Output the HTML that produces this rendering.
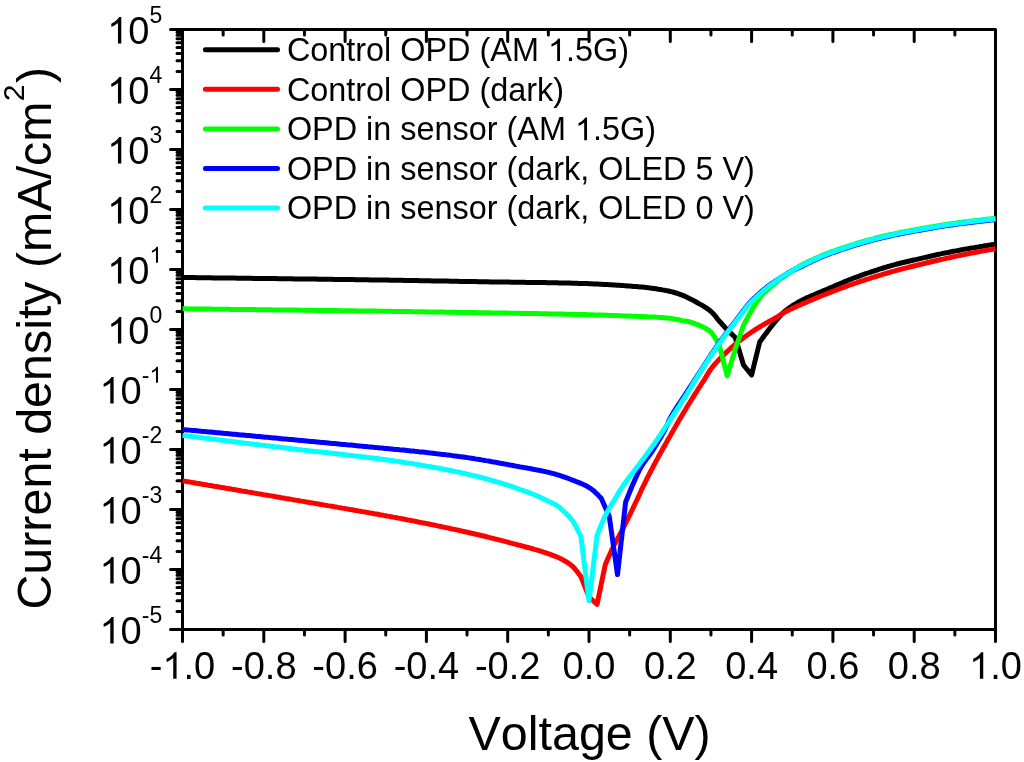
<!DOCTYPE html>
<html><head><meta charset="utf-8"><style>
html,body{margin:0;padding:0;background:#fff;width:1024px;height:762px;overflow:hidden;font-family:"Liberation Sans",sans-serif;}
svg{display:block;will-change:transform} text{font-kerning:none;}
</style></head><body>
<svg width="1024" height="762" viewBox="0 0 1024 762">
<rect x="0" y="0" width="1024" height="762" fill="#fff"/>
<path d="M182.50,629.5 v12 M223.15,629.5 v5.5 M223.15,29.5 v5.5 M263.80,629.5 v12 M263.80,29.5 v12 M304.45,629.5 v5.5 M304.45,29.5 v5.5 M345.10,629.5 v12 M345.10,29.5 v12 M385.75,629.5 v5.5 M385.75,29.5 v5.5 M426.40,629.5 v12 M426.40,29.5 v12 M467.05,629.5 v5.5 M467.05,29.5 v5.5 M507.70,629.5 v12 M507.70,29.5 v12 M548.35,629.5 v5.5 M548.35,29.5 v5.5 M589.00,629.5 v12 M589.00,29.5 v12 M629.65,629.5 v5.5 M629.65,29.5 v5.5 M670.30,629.5 v12 M670.30,29.5 v12 M710.95,629.5 v5.5 M710.95,29.5 v5.5 M751.60,629.5 v12 M751.60,29.5 v12 M792.25,629.5 v5.5 M792.25,29.5 v5.5 M832.90,629.5 v12 M832.90,29.5 v12 M873.55,629.5 v5.5 M873.55,29.5 v5.5 M914.20,629.5 v12 M914.20,29.5 v12 M954.85,629.5 v5.5 M954.85,29.5 v5.5 M995.50,629.5 v12 M182.5,629.50 h-12 M182.5,611.44 h-5.5 M182.5,600.87 h-5.5 M182.5,593.38 h-5.5 M182.5,587.56 h-5.5 M182.5,582.81 h-5.5 M182.5,578.79 h-5.5 M182.5,575.31 h-5.5 M182.5,572.25 h-5.5 M182.5,569.50 h-12 M182.5,551.44 h-5.5 M182.5,540.87 h-5.5 M182.5,533.38 h-5.5 M182.5,527.56 h-5.5 M182.5,522.81 h-5.5 M182.5,518.79 h-5.5 M182.5,515.31 h-5.5 M182.5,512.25 h-5.5 M182.5,509.50 h-12 M182.5,491.44 h-5.5 M182.5,480.87 h-5.5 M182.5,473.38 h-5.5 M182.5,467.56 h-5.5 M182.5,462.81 h-5.5 M182.5,458.79 h-5.5 M182.5,455.31 h-5.5 M182.5,452.25 h-5.5 M182.5,449.50 h-12 M182.5,431.44 h-5.5 M182.5,420.87 h-5.5 M182.5,413.38 h-5.5 M182.5,407.56 h-5.5 M182.5,402.81 h-5.5 M182.5,398.79 h-5.5 M182.5,395.31 h-5.5 M182.5,392.25 h-5.5 M182.5,389.50 h-12 M182.5,371.44 h-5.5 M182.5,360.87 h-5.5 M182.5,353.38 h-5.5 M182.5,347.56 h-5.5 M182.5,342.81 h-5.5 M182.5,338.79 h-5.5 M182.5,335.31 h-5.5 M182.5,332.25 h-5.5 M182.5,329.50 h-12 M182.5,311.44 h-5.5 M182.5,300.87 h-5.5 M182.5,293.38 h-5.5 M182.5,287.56 h-5.5 M182.5,282.81 h-5.5 M182.5,278.79 h-5.5 M182.5,275.31 h-5.5 M182.5,272.25 h-5.5 M182.5,269.50 h-12 M182.5,251.44 h-5.5 M182.5,240.87 h-5.5 M182.5,233.38 h-5.5 M182.5,227.56 h-5.5 M182.5,222.81 h-5.5 M182.5,218.79 h-5.5 M182.5,215.31 h-5.5 M182.5,212.25 h-5.5 M182.5,209.50 h-12 M182.5,191.44 h-5.5 M182.5,180.87 h-5.5 M182.5,173.38 h-5.5 M182.5,167.56 h-5.5 M182.5,162.81 h-5.5 M182.5,158.79 h-5.5 M182.5,155.31 h-5.5 M182.5,152.25 h-5.5 M182.5,149.50 h-12 M182.5,131.44 h-5.5 M182.5,120.87 h-5.5 M182.5,113.38 h-5.5 M182.5,107.56 h-5.5 M182.5,102.81 h-5.5 M182.5,98.79 h-5.5 M182.5,95.31 h-5.5 M182.5,92.25 h-5.5 M182.5,89.50 h-12 M182.5,71.44 h-5.5 M182.5,60.87 h-5.5 M182.5,53.38 h-5.5 M182.5,47.56 h-5.5 M182.5,42.81 h-5.5 M182.5,38.79 h-5.5 M182.5,35.31 h-5.5 M182.5,32.25 h-5.5 M182.5,29.50 h-12" stroke="#000" stroke-width="3" stroke-linecap="round" fill="none"/>
<rect x="182.5" y="29.5" width="813.0" height="600.0" fill="none" stroke="#000" stroke-width="3" stroke-linejoin="round"/>
<g fill="none" stroke-width="5" stroke-linejoin="round" stroke-linecap="butt">
<path d="M182.5,277.5 L184.5,277.5 L186.6,277.5 L188.6,277.6 L190.6,277.6 L192.7,277.6 L194.7,277.6 L196.7,277.7 L198.7,277.7 L200.8,277.7 L202.8,277.7 L204.8,277.8 L206.8,277.8 L208.9,277.8 L210.9,277.8 L212.9,277.9 L215.0,277.9 L217.0,277.9 L219.0,277.9 L221.0,278.0 L223.1,278.0 L225.1,278.0 L227.1,278.0 L229.1,278.1 L231.2,278.1 L233.2,278.1 L235.2,278.1 L237.3,278.2 L239.3,278.2 L241.3,278.2 L243.3,278.2 L245.4,278.3 L247.4,278.3 L249.4,278.3 L251.5,278.3 L253.5,278.4 L255.5,278.4 L257.6,278.4 L259.6,278.4 L261.6,278.5 L263.7,278.5 L265.7,278.5 L267.8,278.5 L269.8,278.6 L271.8,278.6 L273.9,278.6 L275.9,278.6 L278.0,278.7 L280.0,278.7 L282.0,278.7 L284.0,278.8 L286.0,278.8 L288.0,278.8 L289.9,278.8 L291.9,278.8 L293.9,278.9 L295.9,278.9 L297.9,278.9 L299.9,278.9 L301.9,279.0 L303.9,279.0 L305.9,279.0 L307.9,279.0 L309.9,279.1 L311.9,279.1 L313.9,279.1 L315.9,279.1 L317.9,279.2 L319.9,279.2 L321.9,279.2 L323.9,279.2 L325.9,279.3 L327.9,279.3 L329.9,279.3 L331.9,279.3 L333.9,279.4 L335.9,279.4 L337.9,279.4 L339.9,279.4 L341.9,279.5 L343.9,279.5 L346.0,279.5 L348.0,279.6 L350.0,279.6 L352.0,279.6 L354.0,279.6 L356.0,279.7 L358.0,279.7 L360.0,279.7 L362.0,279.7 L364.0,279.8 L366.0,279.8 L368.0,279.8 L370.0,279.9 L372.0,279.9 L374.0,279.9 L376.0,279.9 L378.0,280.0 L380.0,280.0 L382.0,280.0 L384.0,280.1 L386.0,280.1 L388.0,280.1 L390.0,280.2 L392.0,280.2 L394.0,280.2 L396.0,280.2 L398.0,280.3 L400.0,280.3 L402.0,280.3 L404.0,280.4 L406.0,280.4 L408.0,280.4 L410.0,280.5 L412.0,280.5 L414.0,280.5 L416.0,280.6 L418.0,280.6 L420.0,280.7 L422.0,280.7 L424.0,280.7 L426.0,280.8 L428.0,280.8 L430.0,280.8 L432.0,280.9 L434.0,280.9 L436.0,280.9 L438.0,281.0 L440.0,281.0 L442.0,281.0 L444.0,281.1 L446.0,281.1 L448.0,281.1 L450.0,281.2 L452.0,281.2 L454.0,281.2 L456.0,281.3 L458.0,281.3 L460.0,281.4 L462.0,281.4 L464.0,281.4 L466.0,281.5 L468.0,281.5 L470.0,281.5 L472.0,281.6 L474.0,281.6 L476.0,281.6 L478.0,281.7 L480.0,281.7 L482.0,281.7 L484.0,281.8 L486.1,281.8 L488.1,281.8 L490.2,281.9 L492.3,281.9 L494.4,281.9 L496.5,282.0 L498.6,282.0 L500.7,282.0 L502.9,282.0 L505.0,282.1 L507.2,282.1 L509.3,282.1 L511.5,282.2 L513.6,282.2 L515.8,282.2 L517.9,282.2 L520.1,282.3 L522.2,282.3 L524.4,282.3 L526.5,282.4 L528.6,282.4 L530.8,282.4 L532.9,282.4 L535.0,282.5 L537.1,282.5 L539.2,282.5 L541.3,282.6 L543.3,282.6 L545.4,282.6 L547.4,282.7 L549.4,282.7 L551.4,282.7 L553.4,282.8 L555.4,282.8 L557.3,282.8 L559.2,282.9 L561.1,282.9 L563.0,283.0 L564.8,283.0 L566.6,283.0 L568.4,283.1 L570.1,283.1 L571.9,283.2 L573.6,283.2 L575.2,283.3 L576.9,283.3 L578.4,283.4 L580.0,283.4 L582.5,283.5 L584.9,283.6 L587.2,283.6 L589.4,283.7 L591.6,283.8 L593.7,283.9 L595.8,284.0 L597.8,284.1 L599.8,284.2 L601.7,284.3 L603.7,284.4 L605.6,284.5 L607.5,284.6 L609.4,284.7 L611.2,284.8 L613.2,284.9 L615.1,285.0 L617.0,285.2 L619.0,285.3 L621.1,285.4 L623.2,285.6 L625.4,285.7 L627.5,285.9 L629.6,286.0 L631.8,286.2 L633.9,286.4 L636.0,286.5 L638.1,286.7 L640.2,286.9 L642.2,287.1 L644.3,287.3 L646.3,287.5 L648.3,287.7 L650.2,288.0 L652.1,288.2 L654.0,288.5 L656.2,288.8 L658.3,289.2 L660.4,289.5 L662.5,289.9 L664.5,290.2 L666.5,290.6 L668.5,291.0 L670.4,291.5 L672.4,291.9 L674.3,292.5 L676.1,293.0 L678.0,293.6 L680.0,294.3 L682.1,295.1 L684.0,295.9 L686.0,296.8 L687.9,297.7 L689.8,298.7 L691.7,299.6 L693.5,300.6 L695.3,301.5 L697.0,302.5 L698.9,303.6 L700.8,304.6 L702.7,305.7 L704.5,306.8 L706.2,307.9 L707.9,309.1 L709.5,310.3 L711.0,311.5 L712.6,313.0 L714.0,314.5 L715.3,316.1 L716.5,317.7 L717.8,319.3 L719.1,320.8 L720.4,322.3 L721.8,323.8 L723.1,325.3 L724.5,326.8 L725.8,328.3 L727.2,329.7 L728.8,331.3 L730.4,332.9 L732.0,334.4 L733.7,336.0 L735.3,337.5 L743.5,365.0 L751.6,375.0 L759.7,342.0 L761.0,340.2 L762.4,338.4 L763.7,336.5 L765.0,334.7 L766.4,332.9 L767.8,331.0 L769.0,329.4 L770.2,327.8 L771.5,326.2 L772.8,324.6 L774.1,323.0 L775.4,321.4 L776.7,319.9 L777.9,318.5 L779.4,316.8 L780.9,315.1 L782.3,313.6 L783.9,312.0 L785.7,310.5 L787.2,309.4 L788.8,308.2 L790.5,307.0 L792.2,305.9 L794.1,304.7 L796.0,303.6 L797.8,302.5 L799.7,301.5 L801.5,300.5 L803.4,299.5 L805.4,298.5 L807.3,297.6 L809.3,296.8 L811.3,295.9 L813.3,295.1 L815.2,294.3 L817.2,293.4 L819.2,292.5 L821.1,291.7 L823.1,290.9 L825.1,290.0 L827.0,289.2 L829.0,288.4 L831.0,287.5 L833.0,286.7 L834.9,285.9 L836.7,285.1 L838.6,284.3 L840.4,283.5 L842.3,282.7 L844.2,281.9 L846.1,281.1 L848.0,280.3 L850.0,279.5 L851.9,278.8 L853.8,278.0 L855.8,277.3 L857.8,276.6 L859.7,275.9 L861.7,275.1 L863.8,274.4 L865.8,273.7 L867.9,273.0 L870.0,272.3 L871.8,271.7 L873.7,271.1 L875.6,270.5 L877.5,269.9 L879.4,269.2 L881.3,268.6 L883.3,268.0 L885.2,267.4 L887.2,266.8 L889.2,266.3 L891.1,265.7 L893.1,265.1 L895.0,264.6 L897.1,264.0 L899.2,263.5 L901.2,263.0 L903.3,262.5 L905.4,262.0 L907.5,261.5 L909.6,261.0 L911.7,260.5 L913.7,260.0 L915.8,259.6 L917.9,259.1 L920.0,258.6 L922.1,258.1 L924.2,257.6 L926.2,257.2 L928.3,256.7 L930.4,256.2 L932.5,255.7 L934.6,255.3 L936.7,254.8 L938.7,254.3 L940.8,253.9 L942.9,253.4 L945.0,253.0 L947.1,252.6 L949.2,252.2 L951.2,251.8 L953.3,251.3 L955.4,251.0 L957.5,250.6 L959.6,250.2 L961.6,249.8 L963.7,249.4 L965.8,249.0 L967.9,248.7 L970.0,248.3 L972.1,247.9 L974.2,247.6 L976.4,247.2 L978.5,246.9 L980.6,246.5 L982.7,246.2 L984.9,245.8 L987.0,245.5 L989.1,245.1 L991.2,244.8 L993.4,244.4 L995.5,244.1" stroke="#000"/>
<path d="M182.5,480.8 L184.5,481.1 L186.5,481.5 L188.4,481.8 L190.4,482.1 L192.4,482.5 L194.4,482.8 L196.3,483.2 L198.3,483.5 L200.3,483.8 L202.2,484.2 L204.2,484.5 L206.2,484.8 L208.1,485.2 L210.1,485.5 L212.1,485.8 L214.1,486.2 L216.0,486.5 L218.0,486.8 L220.0,487.2 L221.9,487.5 L223.9,487.8 L225.9,488.2 L227.8,488.5 L229.8,488.8 L231.8,489.2 L233.7,489.5 L235.7,489.8 L237.7,490.2 L239.6,490.5 L241.6,490.9 L243.6,491.2 L245.6,491.5 L247.5,491.9 L249.5,492.2 L251.5,492.5 L253.5,492.9 L255.5,493.2 L257.4,493.6 L259.4,493.9 L261.4,494.2 L263.4,494.6 L265.4,494.9 L267.4,495.3 L269.4,495.6 L271.4,495.9 L273.4,496.3 L275.4,496.6 L277.4,497.0 L279.4,497.3 L281.4,497.7 L283.4,498.0 L285.4,498.4 L287.4,498.7 L289.3,499.0 L291.3,499.4 L293.3,499.7 L295.2,500.1 L297.2,500.4 L299.2,500.7 L301.2,501.1 L303.2,501.4 L305.2,501.8 L307.3,502.1 L309.3,502.5 L311.3,502.8 L313.4,503.1 L315.4,503.5 L317.4,503.8 L319.5,504.2 L321.5,504.5 L323.6,504.9 L325.7,505.2 L327.7,505.6 L329.8,505.9 L331.8,506.3 L333.9,506.6 L335.9,507.0 L338.0,507.4 L340.0,507.7 L342.1,508.1 L344.1,508.4 L346.2,508.8 L348.2,509.1 L350.3,509.5 L352.3,509.8 L354.3,510.2 L356.3,510.5 L358.4,510.9 L360.4,511.2 L362.4,511.6 L364.4,511.9 L366.3,512.3 L368.3,512.6 L370.3,513.0 L372.2,513.3 L374.2,513.7 L376.1,514.0 L378.0,514.3 L379.9,514.7 L381.8,515.0 L383.7,515.4 L385.6,515.7 L387.4,516.1 L389.3,516.4 L391.1,516.7 L392.9,517.1 L394.7,517.4 L396.5,517.7 L398.3,518.1 L400.0,518.4 L402.2,518.8 L404.4,519.2 L406.6,519.7 L408.8,520.1 L410.9,520.5 L413.1,520.9 L415.2,521.3 L417.3,521.8 L419.4,522.2 L421.5,522.6 L423.6,523.0 L425.6,523.4 L427.7,523.8 L429.7,524.2 L431.7,524.6 L433.7,525.0 L435.7,525.4 L437.7,525.9 L439.6,526.3 L441.6,526.7 L443.5,527.1 L445.4,527.5 L447.3,527.9 L449.2,528.3 L451.1,528.7 L453.0,529.1 L454.9,529.5 L456.7,529.9 L458.5,530.3 L460.4,530.7 L462.2,531.1 L464.0,531.5 L465.8,531.9 L467.5,532.3 L469.3,532.7 L471.5,533.2 L473.8,533.7 L476.0,534.2 L478.2,534.8 L480.4,535.3 L482.5,535.8 L484.6,536.3 L486.8,536.8 L488.9,537.4 L490.9,537.9 L493.0,538.4 L495.0,538.9 L497.0,539.4 L499.0,539.9 L500.9,540.4 L502.9,540.9 L504.8,541.4 L506.7,541.9 L508.5,542.4 L510.3,542.9 L512.1,543.3 L513.9,543.8 L516.2,544.4 L518.4,545.0 L520.5,545.5 L522.7,546.1 L524.7,546.7 L526.8,547.2 L528.8,547.7 L530.7,548.3 L532.7,548.8 L534.5,549.4 L536.4,549.9 L538.2,550.4 L540.0,551.0 L542.3,551.7 L544.5,552.5 L546.7,553.2 L548.9,553.9 L550.9,554.6 L552.9,555.4 L554.8,556.1 L556.5,556.8 L558.8,557.8 L560.8,558.7 L562.7,559.7 L564.6,560.8 L566.7,562.0 L568.7,563.4 L570.7,564.8 L572.7,566.5 L574.1,568.0 L575.5,569.6 L576.9,571.3 L578.2,573.0 L579.5,574.8 L580.9,576.5 L589.0,597.0 L597.1,604.3 L605.2,564.9 L606.0,563.1 L606.8,561.2 L607.6,559.3 L608.4,557.4 L609.3,555.6 L610.1,553.7 L610.9,551.9 L611.7,550.0 L612.6,548.3 L613.4,546.5 L614.4,544.5 L615.4,542.6 L616.4,540.7 L617.5,538.8 L618.5,537.0 L619.5,535.1 L620.5,533.3 L621.5,531.5 L622.5,529.6 L623.4,527.8 L624.3,526.0 L625.2,524.2 L626.1,522.3 L627.0,520.5 L628.0,518.5 L628.9,516.7 L629.8,514.8 L630.7,512.9 L631.6,511.0 L632.6,509.0 L633.5,507.1 L634.5,505.0 L635.4,503.0 L636.4,501.0 L637.3,499.2 L638.1,497.3 L639.0,495.5 L639.8,493.7 L640.7,491.8 L641.5,489.9 L642.4,488.0 L643.4,486.0 L644.3,484.1 L645.3,482.1 L646.3,480.0 L647.1,478.3 L648.0,476.6 L648.9,474.9 L649.8,473.1 L650.7,471.3 L651.7,469.5 L652.7,467.7 L653.6,465.8 L654.6,464.0 L655.6,462.1 L656.6,460.2 L657.6,458.4 L658.6,456.5 L659.6,454.7 L660.6,452.9 L661.6,451.1 L662.6,449.3 L663.6,447.5 L664.6,445.7 L665.6,443.9 L666.6,442.1 L667.6,440.3 L668.6,438.5 L669.7,436.7 L670.7,434.9 L671.7,433.1 L672.7,431.4 L673.7,429.6 L674.7,427.9 L675.7,426.1 L676.7,424.4 L677.7,422.7 L678.7,421.0 L679.8,419.1 L680.9,417.2 L682.1,415.3 L683.2,413.4 L684.3,411.5 L685.4,409.7 L686.5,407.8 L687.6,406.0 L688.7,404.2 L689.8,402.5 L690.9,400.7 L692.0,399.0 L693.0,397.3 L694.2,395.4 L695.3,393.6 L696.5,391.8 L697.6,390.0 L698.7,388.3 L699.9,386.6 L700.9,384.9 L702.0,383.2 L703.1,381.6 L704.1,380.0 L705.3,378.1 L706.3,376.3 L707.3,374.6 L708.4,372.9 L709.5,371.2 L710.7,369.4 L712.0,367.6 L713.2,366.1 L714.6,364.5 L716.0,362.9 L717.6,361.2 L719.1,359.5 L720.7,357.9 L722.4,356.3 L724.0,354.7 L725.5,353.1 L727.1,351.7 L728.5,350.3 L730.2,348.7 L731.9,347.2 L733.5,345.8 L735.1,344.5 L736.7,343.1 L738.3,341.8 L740.0,340.5 L741.7,339.2 L743.5,337.8 L745.3,336.5 L747.1,335.2 L748.9,334.0 L750.7,332.7 L752.5,331.5 L754.3,330.3 L756.0,329.2 L757.8,328.1 L759.6,327.0 L761.4,325.9 L763.2,324.9 L765.0,323.8 L766.8,322.8 L768.6,321.7 L770.4,320.7 L772.3,319.7 L774.0,318.7 L775.8,317.7 L777.4,316.8 L779.5,315.5 L781.5,314.2 L783.5,313.0 L785.7,311.7 L787.4,310.8 L789.3,309.9 L791.2,308.9 L793.3,308.0 L795.3,307.1 L797.4,306.1 L799.5,305.2 L801.5,304.3 L803.5,303.4 L805.4,302.6 L807.4,301.7 L809.3,300.9 L811.3,300.1 L813.3,299.2 L815.2,298.4 L817.2,297.6 L819.2,296.8 L821.1,296.0 L823.1,295.2 L825.1,294.4 L827.0,293.6 L829.0,292.9 L831.0,292.1 L833.0,291.3 L834.9,290.6 L836.7,289.9 L838.6,289.2 L840.4,288.5 L842.3,287.8 L844.2,287.1 L846.1,286.4 L848.0,285.7 L850.0,285.0 L851.9,284.3 L853.9,283.7 L855.8,283.0 L857.8,282.3 L859.7,281.6 L861.7,281.0 L863.8,280.3 L865.8,279.6 L867.9,279.0 L870.0,278.3 L871.8,277.7 L873.7,277.1 L875.6,276.5 L877.5,276.0 L879.4,275.4 L881.3,274.8 L883.3,274.2 L885.2,273.6 L887.2,273.0 L889.2,272.5 L891.1,271.9 L893.1,271.3 L895.0,270.8 L897.1,270.2 L899.2,269.7 L901.2,269.1 L903.3,268.6 L905.4,268.1 L907.5,267.6 L909.6,267.0 L911.7,266.5 L913.7,266.0 L915.8,265.5 L917.9,265.0 L920.0,264.5 L922.1,264.0 L924.2,263.5 L926.2,263.0 L928.3,262.5 L930.4,262.0 L932.5,261.5 L934.6,261.0 L936.7,260.5 L938.7,260.0 L940.8,259.5 L942.9,259.1 L945.0,258.6 L947.1,258.1 L949.2,257.7 L951.2,257.2 L953.3,256.8 L955.4,256.4 L957.5,255.9 L959.6,255.5 L961.6,255.1 L963.7,254.6 L965.8,254.2 L967.9,253.8 L970.0,253.4 L972.1,253.0 L974.2,252.6 L976.4,252.2 L978.5,251.8 L980.6,251.4 L982.7,251.0 L984.9,250.6 L987.0,250.2 L989.1,249.9 L991.2,249.5 L993.4,249.1 L995.5,248.7" stroke="#f00"/>
<path d="M182.5,308.8 L184.5,308.8 L186.5,308.8 L188.5,308.9 L190.6,308.9 L192.6,308.9 L194.6,308.9 L196.6,309.0 L198.6,309.0 L200.6,309.0 L202.6,309.0 L204.7,309.1 L206.7,309.1 L208.7,309.1 L210.7,309.1 L212.7,309.2 L214.7,309.2 L216.7,309.2 L218.8,309.2 L220.8,309.3 L222.8,309.3 L224.8,309.3 L226.8,309.3 L228.8,309.3 L230.8,309.4 L232.9,309.4 L234.9,309.4 L236.9,309.4 L238.9,309.5 L240.9,309.5 L242.9,309.5 L244.9,309.5 L246.9,309.6 L249.0,309.6 L251.0,309.6 L253.0,309.6 L255.0,309.6 L257.0,309.7 L259.0,309.7 L261.0,309.7 L263.1,309.7 L265.1,309.8 L267.1,309.8 L269.1,309.8 L271.1,309.8 L273.1,309.9 L275.1,309.9 L277.1,309.9 L279.2,309.9 L281.2,309.9 L283.2,310.0 L285.2,310.0 L287.2,310.0 L289.2,310.0 L291.2,310.1 L293.3,310.1 L295.3,310.1 L297.3,310.1 L299.3,310.2 L301.3,310.2 L303.3,310.2 L305.3,310.2 L307.4,310.3 L309.4,310.3 L311.4,310.3 L313.4,310.3 L315.4,310.4 L317.4,310.4 L319.4,310.4 L321.5,310.4 L323.5,310.5 L325.5,310.5 L327.5,310.5 L329.5,310.5 L331.5,310.6 L333.6,310.6 L335.6,310.6 L337.6,310.6 L339.6,310.7 L341.6,310.7 L343.6,310.7 L345.7,310.7 L347.7,310.8 L349.7,310.8 L351.7,310.8 L353.7,310.8 L355.8,310.9 L357.8,310.9 L359.8,310.9 L361.8,310.9 L363.8,311.0 L365.9,311.0 L367.9,311.0 L369.9,311.1 L371.9,311.1 L373.9,311.1 L376.0,311.1 L378.0,311.2 L380.0,311.2 L382.0,311.2 L384.0,311.3 L386.0,311.3 L388.1,311.3 L390.2,311.3 L392.2,311.4 L394.3,311.4 L396.4,311.4 L398.5,311.5 L400.6,311.5 L402.8,311.5 L404.9,311.6 L407.1,311.6 L409.2,311.6 L411.4,311.7 L413.6,311.7 L415.8,311.7 L418.0,311.8 L420.2,311.8 L422.4,311.8 L424.6,311.8 L426.8,311.9 L429.1,311.9 L431.3,311.9 L433.5,312.0 L435.8,312.0 L438.0,312.0 L440.3,312.1 L442.5,312.1 L444.8,312.2 L447.0,312.2 L449.3,312.2 L451.6,312.3 L453.8,312.3 L456.1,312.3 L458.3,312.4 L460.6,312.4 L462.8,312.4 L465.1,312.5 L467.3,312.5 L469.6,312.5 L471.8,312.6 L474.1,312.6 L476.3,312.6 L478.5,312.7 L480.8,312.7 L483.0,312.7 L485.2,312.8 L487.4,312.8 L489.6,312.8 L491.8,312.9 L494.0,312.9 L496.2,313.0 L498.3,313.0 L500.5,313.0 L502.6,313.1 L504.8,313.1 L506.9,313.1 L509.0,313.2 L511.1,313.2 L513.2,313.2 L515.3,313.3 L517.3,313.3 L519.4,313.3 L521.4,313.4 L523.4,313.4 L525.4,313.4 L527.4,313.5 L529.4,313.5 L531.3,313.5 L533.3,313.6 L535.2,313.6 L537.1,313.6 L539.0,313.7 L540.9,313.7 L542.7,313.7 L544.5,313.8 L546.3,313.8 L548.1,313.8 L549.9,313.9 L551.6,313.9 L553.4,313.9 L555.1,314.0 L556.7,314.0 L558.4,314.0 L560.0,314.1 L561.6,314.1 L563.2,314.1 L564.7,314.2 L566.3,314.2 L567.8,314.2 L569.2,314.3 L570.7,314.3 L572.1,314.3 L573.5,314.4 L574.9,314.4 L576.2,314.4 L577.5,314.4 L578.8,314.5 L580.0,314.5 L582.8,314.6 L585.4,314.6 L587.9,314.7 L590.2,314.8 L592.4,314.8 L594.6,314.9 L596.6,314.9 L598.6,315.0 L600.5,315.1 L602.3,315.1 L604.1,315.2 L605.9,315.2 L607.7,315.3 L609.5,315.4 L611.3,315.4 L613.2,315.5 L615.0,315.6 L617.0,315.6 L619.0,315.7 L621.1,315.8 L623.2,315.9 L625.4,315.9 L627.6,316.0 L629.8,316.1 L632.1,316.2 L634.3,316.2 L636.6,316.3 L638.8,316.4 L641.0,316.5 L643.2,316.6 L645.3,316.7 L647.3,316.8 L649.3,316.9 L651.3,316.9 L653.1,317.0 L654.8,317.1 L656.5,317.2 L658.0,317.3 L660.4,317.4 L662.5,317.6 L664.5,317.7 L666.3,317.9 L668.1,318.1 L670.0,318.3 L672.1,318.6 L674.3,319.0 L676.3,319.4 L678.4,319.8 L680.5,320.2 L682.6,320.6 L684.7,320.9 L686.8,321.3 L688.9,321.8 L691.0,322.3 L693.2,323.0 L695.4,323.8 L697.6,324.6 L699.6,325.5 L701.5,326.3 L703.4,327.3 L705.2,328.2 L706.8,329.2 L708.9,330.5 L711.0,332.2 L712.1,333.5 L713.2,335.1 L714.4,336.8 L715.6,338.8 L716.7,340.7 L717.9,342.7 L719.1,344.5 L727.2,375.9 L735.3,349.0 L743.5,325.2 L744.5,323.4 L745.5,321.5 L746.5,319.6 L747.5,317.8 L748.5,315.9 L749.5,314.1 L750.6,312.3 L751.6,310.5 L752.7,308.6 L753.9,306.6 L755.0,304.7 L756.2,302.8 L757.4,301.0 L758.7,299.2 L760.0,297.5 L761.3,295.9 L762.7,294.4 L764.1,293.0 L765.6,291.6 L767.1,290.2 L768.5,288.8 L770.0,287.5 L771.6,286.0 L773.3,284.6 L775.0,283.2 L776.6,281.9 L778.3,280.6 L780.0,279.3 L781.6,278.1 L783.3,277.0 L785.0,275.9 L786.7,274.8 L788.3,273.7 L790.0,272.6 L791.6,271.5 L793.2,270.3 L794.8,269.2 L796.5,268.1 L798.2,267.0 L800.0,265.9 L801.7,265.0 L803.5,264.0 L805.4,263.1 L807.3,262.1 L809.2,261.2 L811.2,260.3 L813.1,259.5 L815.0,258.6 L816.8,257.8 L818.7,257.0 L820.5,256.2 L822.3,255.4 L824.2,254.7 L826.1,253.9 L828.0,253.2 L830.0,252.4 L831.9,251.7 L833.8,251.0 L835.8,250.3 L837.8,249.6 L839.8,248.9 L841.8,248.2 L843.9,247.5 L845.9,246.8 L848.0,246.2 L850.0,245.5 L852.0,244.9 L854.0,244.3 L855.9,243.6 L857.9,243.0 L859.8,242.5 L861.8,241.9 L863.8,241.3 L865.8,240.7 L867.9,240.2 L870.0,239.6 L872.0,239.1 L874.0,238.6 L876.0,238.0 L878.1,237.5 L880.2,237.0 L882.3,236.5 L884.4,236.0 L886.5,235.5 L888.7,235.0 L890.8,234.5 L892.9,234.1 L895.0,233.6 L897.1,233.2 L899.2,232.7 L901.2,232.3 L903.3,231.9 L905.4,231.5 L907.5,231.1 L909.6,230.8 L911.7,230.4 L913.7,230.0 L915.8,229.6 L917.9,229.3 L920.0,228.9 L922.1,228.5 L924.2,228.2 L926.2,227.8 L928.3,227.4 L930.4,227.0 L932.5,226.7 L934.6,226.3 L936.7,226.0 L938.7,225.6 L940.8,225.3 L942.9,224.9 L945.0,224.6 L947.1,224.3 L949.2,224.0 L951.2,223.7 L953.3,223.4 L955.4,223.1 L957.5,222.8 L959.6,222.5 L961.6,222.3 L963.7,222.0 L965.8,221.7 L967.9,221.5 L970.0,221.2 L972.1,220.9 L974.2,220.7 L976.4,220.4 L978.5,220.2 L980.6,220.0 L982.7,219.7 L984.9,219.5 L987.0,219.2 L989.1,219.0 L991.2,218.8 L993.4,218.5 L995.5,218.3" stroke="#0f0"/>
<path d="M182.5,429.5 L184.5,429.7 L186.5,429.9 L188.6,430.1 L190.6,430.2 L192.6,430.4 L194.6,430.6 L196.6,430.8 L198.7,431.0 L200.7,431.2 L202.7,431.4 L204.7,431.6 L206.7,431.7 L208.7,431.9 L210.8,432.1 L212.8,432.3 L214.8,432.5 L216.8,432.7 L218.8,432.8 L220.8,433.0 L222.8,433.2 L224.8,433.4 L226.9,433.6 L228.9,433.8 L230.9,434.0 L232.9,434.2 L234.9,434.3 L236.9,434.5 L239.0,434.7 L241.0,434.9 L243.0,435.1 L245.0,435.3 L247.1,435.5 L249.1,435.6 L251.1,435.8 L253.2,436.0 L255.2,436.2 L257.2,436.4 L259.3,436.6 L261.3,436.8 L263.3,437.0 L265.4,437.2 L267.4,437.3 L269.5,437.5 L271.5,437.7 L273.6,437.9 L275.6,438.1 L277.7,438.3 L279.7,438.5 L281.7,438.7 L283.7,438.9 L285.7,439.0 L287.8,439.2 L289.8,439.4 L291.9,439.6 L294.0,439.8 L296.1,440.0 L298.2,440.2 L300.3,440.4 L302.4,440.6 L304.5,440.8 L306.7,441.0 L308.8,441.2 L310.9,441.4 L313.1,441.6 L315.2,441.8 L317.4,442.0 L319.5,442.2 L321.7,442.4 L323.8,442.6 L325.9,442.8 L328.1,443.0 L330.2,443.2 L332.3,443.4 L334.4,443.6 L336.5,443.8 L338.6,444.0 L340.7,444.2 L342.7,444.4 L344.8,444.6 L346.8,444.8 L348.9,444.9 L350.9,445.1 L352.9,445.3 L354.8,445.5 L356.8,445.7 L358.7,445.9 L360.6,446.1 L362.5,446.2 L364.4,446.4 L366.2,446.6 L368.1,446.8 L369.9,446.9 L371.6,447.1 L373.4,447.3 L375.1,447.4 L376.7,447.6 L378.4,447.7 L380.0,447.9 L382.4,448.1 L384.7,448.4 L387.0,448.6 L389.2,448.8 L391.4,449.0 L393.5,449.2 L395.5,449.4 L397.6,449.6 L399.6,449.8 L401.5,449.9 L403.4,450.1 L405.4,450.3 L407.3,450.5 L409.2,450.7 L411.0,450.9 L412.9,451.1 L414.8,451.3 L416.7,451.4 L418.7,451.7 L420.6,451.9 L422.6,452.1 L424.6,452.3 L426.6,452.5 L428.7,452.8 L430.7,453.0 L432.7,453.2 L434.8,453.4 L436.8,453.7 L438.8,453.9 L440.9,454.2 L442.9,454.4 L444.9,454.6 L447.0,454.9 L449.0,455.1 L451.0,455.4 L453.1,455.7 L455.1,455.9 L457.1,456.2 L459.2,456.5 L461.2,456.7 L463.2,457.0 L465.2,457.3 L467.3,457.6 L469.3,457.9 L471.3,458.2 L473.4,458.5 L475.4,458.9 L477.5,459.2 L479.6,459.5 L481.6,459.9 L483.7,460.2 L485.7,460.6 L487.8,460.9 L489.9,461.3 L491.9,461.7 L494.0,462.0 L496.0,462.4 L498.1,462.8 L500.1,463.2 L502.1,463.5 L504.1,463.9 L506.1,464.3 L508.1,464.6 L510.0,465.0 L512.0,465.3 L513.9,465.7 L516.0,466.1 L518.1,466.5 L520.3,466.9 L522.4,467.2 L524.6,467.6 L526.7,468.0 L528.9,468.4 L531.0,468.8 L533.1,469.2 L535.1,469.6 L537.2,470.0 L539.1,470.3 L541.1,470.7 L542.9,471.1 L544.7,471.5 L546.4,471.9 L548.1,472.2 L549.6,472.6 L552.2,473.3 L554.6,473.9 L556.7,474.6 L558.8,475.2 L560.9,475.9 L563.0,476.6 L565.2,477.4 L567.5,478.2 L569.7,479.0 L571.9,479.9 L574.0,480.7 L576.0,481.5 L578.4,482.4 L580.7,483.3 L582.8,484.2 L585.0,485.2 L587.1,486.3 L589.2,487.6 L591.2,488.9 L593.2,490.4 L594.9,491.9 L596.5,493.5 L598.1,495.1 L599.7,496.8 L601.3,498.5 L609.2,516.0 L617.5,574.6 L625.6,502.3 L626.4,500.3 L627.2,498.3 L628.0,496.3 L628.8,494.3 L629.6,492.3 L630.4,490.3 L631.2,488.3 L632.0,486.3 L632.9,484.4 L633.7,482.5 L634.6,480.6 L635.4,478.6 L636.3,476.7 L637.1,474.9 L638.0,473.0 L638.9,471.2 L639.8,469.3 L640.8,467.6 L641.8,465.8 L643.0,463.9 L644.3,462.0 L645.6,460.2 L646.9,458.4 L648.3,456.6 L649.6,454.9 L650.8,453.2 L652.0,451.5 L653.2,449.7 L654.3,447.9 L655.4,446.2 L656.4,444.5 L657.5,442.7 L658.5,441.0 L659.5,439.3 L660.6,437.6 L661.6,435.8 L662.6,434.1 L663.6,432.3 L664.6,430.5 L665.4,428.8 L666.2,427.0 L667.0,425.3 L667.7,423.5 L668.5,421.6 L669.4,419.6 L670.5,417.6 L671.4,416.0 L672.4,414.4 L673.4,412.6 L674.5,410.8 L675.7,409.0 L676.9,407.1 L678.1,405.2 L679.4,403.3 L680.7,401.4 L681.9,399.5 L683.2,397.7 L684.4,395.8 L685.5,394.1 L686.6,392.4 L687.8,390.5 L689.0,388.7 L690.1,386.9 L691.3,385.2 L692.4,383.5 L693.5,381.8 L694.6,380.0 L695.8,378.2 L697.0,376.4 L698.3,374.4 L699.3,372.9 L700.3,371.3 L701.4,369.6 L702.5,368.0 L703.6,366.3 L704.7,364.5 L705.8,362.8 L707.0,361.0 L708.1,359.2 L709.3,357.4 L710.5,355.6 L711.6,353.8 L712.8,352.1 L714.0,350.3 L715.2,348.6 L716.3,346.9 L717.5,345.2 L718.7,343.5 L719.9,341.8 L721.2,340.1 L722.4,338.4 L723.6,336.7 L724.9,335.0 L726.2,333.3 L727.4,331.6 L728.7,329.9 L729.9,328.3 L731.1,326.7 L732.4,325.1 L733.6,323.5 L734.7,322.0 L735.9,320.5 L737.0,319.0 L738.4,317.2 L739.8,315.3 L741.1,313.6 L742.4,311.8 L743.7,310.1 L745.0,308.5 L746.2,306.9 L747.5,305.3 L748.7,303.8 L750.0,302.4 L751.7,300.6 L753.4,298.9 L755.0,297.4 L756.7,295.9 L758.3,294.4 L760.0,292.9 L761.6,291.5 L763.3,290.0 L765.0,288.7 L766.6,287.3 L768.3,286.0 L770.0,284.7 L772.0,283.3 L774.0,282.0 L776.0,280.7 L778.0,279.4 L780.0,278.1 L782.0,276.8 L784.0,275.5 L786.0,274.3 L788.0,273.0 L790.0,271.9 L791.9,270.9 L793.9,270.0 L795.8,269.1 L797.9,268.2 L800.0,267.2 L801.7,266.4 L803.5,265.5 L805.4,264.5 L807.3,263.6 L809.2,262.6 L811.2,261.7 L813.1,260.8 L815.0,259.9 L816.8,259.1 L818.7,258.3 L820.5,257.5 L822.3,256.7 L824.2,256.0 L826.1,255.2 L828.0,254.5 L830.0,253.7 L831.9,253.0 L833.8,252.3 L835.8,251.6 L837.8,250.9 L839.8,250.2 L841.8,249.5 L843.9,248.8 L845.9,248.1 L848.0,247.5 L850.0,246.8 L852.0,246.2 L854.0,245.6 L855.9,244.9 L857.9,244.3 L859.8,243.8 L861.8,243.2 L863.8,242.6 L865.8,242.0 L867.9,241.5 L870.0,240.9 L872.0,240.4 L874.0,239.9 L876.0,239.3 L878.1,238.8 L880.2,238.3 L882.3,237.8 L884.4,237.3 L886.5,236.8 L888.7,236.3 L890.8,235.8 L892.9,235.4 L895.0,234.9 L897.1,234.5 L899.2,234.0 L901.2,233.6 L903.3,233.2 L905.4,232.8 L907.5,232.4 L909.6,232.1 L911.7,231.7 L913.7,231.3 L915.8,230.9 L917.9,230.6 L920.0,230.2 L922.1,229.8 L924.2,229.5 L926.2,229.1 L928.3,228.7 L930.4,228.3 L932.5,228.0 L934.6,227.6 L936.7,227.3 L938.7,226.9 L940.8,226.6 L942.9,226.2 L945.0,225.9 L947.1,225.6 L949.2,225.3 L951.2,225.0 L953.3,224.7 L955.4,224.4 L957.5,224.1 L959.6,223.8 L961.6,223.6 L963.7,223.3 L965.8,223.0 L967.9,222.8 L970.0,222.5 L972.1,222.2 L974.2,222.0 L976.4,221.7 L978.5,221.5 L980.6,221.3 L982.7,221.0 L984.9,220.8 L987.0,220.5 L989.1,220.3 L991.2,220.1 L993.4,219.8 L995.5,219.6" stroke="#00f"/>
<path d="M182.5,435.4 L184.5,435.6 L186.5,435.9 L188.6,436.1 L190.6,436.4 L192.6,436.6 L194.6,436.9 L196.6,437.1 L198.7,437.4 L200.7,437.6 L202.7,437.9 L204.7,438.1 L206.7,438.4 L208.7,438.6 L210.7,438.9 L212.8,439.1 L214.8,439.4 L216.8,439.6 L218.8,439.9 L220.8,440.1 L222.8,440.4 L224.8,440.6 L226.9,440.9 L228.9,441.1 L230.9,441.4 L232.9,441.6 L234.9,441.9 L236.9,442.1 L239.0,442.4 L241.0,442.6 L243.0,442.9 L245.0,443.1 L247.1,443.4 L249.1,443.6 L251.1,443.9 L253.1,444.1 L255.2,444.4 L257.2,444.6 L259.3,444.9 L261.3,445.1 L263.3,445.4 L265.4,445.6 L267.4,445.9 L269.5,446.1 L271.5,446.4 L273.6,446.6 L275.6,446.9 L277.7,447.1 L279.7,447.3 L281.7,447.6 L283.7,447.8 L285.7,448.0 L287.8,448.3 L289.8,448.5 L291.9,448.8 L294.0,449.0 L296.1,449.2 L298.2,449.5 L300.3,449.7 L302.4,450.0 L304.5,450.2 L306.7,450.4 L308.8,450.7 L310.9,450.9 L313.1,451.2 L315.2,451.4 L317.4,451.6 L319.5,451.9 L321.7,452.1 L323.8,452.4 L325.9,452.6 L328.1,452.8 L330.2,453.1 L332.3,453.3 L334.4,453.6 L336.5,453.8 L338.6,454.0 L340.7,454.3 L342.8,454.5 L344.8,454.7 L346.8,455.0 L348.9,455.2 L350.9,455.4 L352.9,455.7 L354.9,455.9 L356.8,456.1 L358.7,456.4 L360.7,456.6 L362.5,456.8 L364.4,457.0 L366.3,457.3 L368.1,457.5 L369.9,457.7 L371.6,457.9 L373.4,458.1 L375.1,458.4 L376.7,458.6 L378.4,458.8 L380.0,459.0 L382.4,459.3 L384.7,459.6 L387.0,459.9 L389.2,460.2 L391.4,460.5 L393.5,460.8 L395.6,461.1 L397.6,461.4 L399.6,461.7 L401.5,462.0 L403.5,462.3 L405.4,462.6 L407.3,462.9 L409.2,463.1 L411.1,463.4 L412.9,463.7 L414.8,464.1 L416.7,464.4 L418.7,464.7 L420.6,465.0 L422.6,465.4 L424.6,465.7 L426.6,466.1 L428.7,466.4 L430.8,466.8 L432.8,467.2 L434.9,467.5 L437.0,467.9 L439.1,468.3 L441.1,468.7 L443.2,469.1 L445.3,469.5 L447.4,469.9 L449.4,470.3 L451.5,470.7 L453.5,471.2 L455.6,471.6 L457.6,472.0 L459.6,472.4 L461.6,472.9 L463.5,473.3 L465.5,473.7 L467.4,474.2 L469.3,474.6 L471.4,475.1 L473.5,475.6 L475.7,476.1 L477.8,476.7 L479.9,477.2 L482.0,477.7 L484.0,478.3 L486.1,478.8 L488.1,479.4 L490.1,479.9 L492.0,480.5 L493.9,481.0 L495.8,481.5 L497.6,482.1 L499.4,482.6 L501.1,483.1 L502.8,483.6 L505.0,484.3 L507.0,484.9 L509.0,485.6 L510.9,486.2 L512.7,486.9 L514.5,487.5 L516.3,488.2 L518.1,488.8 L520.0,489.5 L522.1,490.2 L524.2,491.0 L526.2,491.7 L528.3,492.4 L530.4,493.2 L532.4,494.0 L534.3,494.7 L536.2,495.5 L538.4,496.5 L540.5,497.4 L542.6,498.4 L544.6,499.4 L546.5,500.4 L548.4,501.3 L550.6,502.3 L552.6,503.2 L554.6,504.2 L556.5,505.3 L558.2,506.5 L559.8,507.8 L561.4,509.2 L563.0,510.7 L564.6,512.2 L566.3,513.8 L567.9,515.4 L569.6,517.1 L571.2,519.0 L572.7,521.0 L573.8,522.7 L574.9,524.5 L575.9,526.4 L576.9,528.4 L577.9,530.5 L578.9,532.5 L579.9,534.5 L580.9,536.5 L589.0,600.7 L597.1,535.3 L597.9,533.3 L598.7,531.3 L599.5,529.3 L600.3,527.3 L601.1,525.3 L601.9,523.3 L602.7,521.4 L603.5,519.5 L604.3,517.6 L605.2,515.8 L606.2,513.9 L607.1,512.1 L608.1,510.3 L609.2,508.5 L610.2,506.8 L611.2,505.1 L612.3,503.3 L613.4,501.5 L614.4,499.9 L615.4,498.2 L616.4,496.5 L617.4,494.8 L618.4,493.1 L619.5,491.4 L620.6,489.7 L621.7,488.0 L622.8,486.2 L624.0,484.5 L625.1,482.9 L626.3,481.3 L627.4,479.7 L628.6,478.1 L629.9,476.5 L631.1,474.9 L632.4,473.3 L633.6,471.6 L634.9,470.0 L636.2,468.3 L637.4,466.7 L638.7,465.0 L639.9,463.4 L641.1,461.7 L642.4,460.1 L643.6,458.4 L644.9,456.7 L646.1,455.0 L647.4,453.3 L648.6,451.6 L649.9,449.9 L651.1,448.2 L652.3,446.5 L653.6,444.8 L654.8,443.0 L656.0,441.3 L657.2,439.6 L658.3,437.8 L659.5,436.1 L660.7,434.3 L661.9,432.6 L663.0,430.8 L664.2,429.0 L665.4,427.2 L666.6,425.4 L667.7,423.6 L668.9,421.9 L670.0,420.1 L671.2,418.3 L672.4,416.5 L673.5,414.7 L674.7,412.9 L675.9,411.0 L677.1,409.2 L678.3,407.4 L679.5,405.5 L680.6,403.7 L681.8,401.9 L682.9,400.1 L684.1,398.3 L685.2,396.6 L686.3,394.9 L687.3,393.2 L688.5,391.3 L689.6,389.5 L690.7,387.7 L691.7,386.0 L692.7,384.3 L693.8,382.6 L694.8,380.8 L695.9,379.0 L697.1,377.2 L698.3,375.2 L699.3,373.7 L700.3,372.1 L701.3,370.4 L702.4,368.8 L703.5,367.0 L704.6,365.3 L705.8,363.6 L706.9,361.8 L708.1,360.0 L709.2,358.2 L710.4,356.4 L711.6,354.6 L712.8,352.9 L714.0,351.1 L715.2,349.4 L716.3,347.7 L717.5,346.0 L718.7,344.3 L719.9,342.6 L721.2,340.9 L722.4,339.2 L723.6,337.5 L724.9,335.8 L726.2,334.1 L727.4,332.4 L728.7,330.7 L729.9,329.1 L731.1,327.5 L732.4,325.9 L733.6,324.3 L734.7,322.8 L735.9,321.3 L737.0,319.8 L738.4,318.0 L739.8,316.1 L741.1,314.4 L742.4,312.6 L743.7,310.9 L745.0,309.3 L746.2,307.7 L747.5,306.1 L748.7,304.6 L750.0,303.2 L751.7,301.4 L753.4,299.7 L755.0,298.2 L756.7,296.7 L758.3,295.2 L760.0,293.7 L761.6,292.3 L763.3,290.9 L765.0,289.5 L766.6,288.1 L768.3,286.8 L770.0,285.5 L771.7,284.2 L773.3,283.0 L775.0,281.8 L776.6,280.6 L778.3,279.4 L780.0,278.3 L782.0,277.0 L784.0,275.7 L786.0,274.5 L788.0,273.3 L790.0,272.1 L792.0,271.0 L793.9,269.8 L795.8,268.7 L797.9,267.6 L800.0,266.5 L801.7,265.6 L803.5,264.7 L805.4,263.8 L807.3,262.8 L809.2,261.9 L811.2,261.0 L813.1,260.1 L815.0,259.2 L816.8,258.4 L818.7,257.6 L820.5,256.8 L822.3,256.0 L824.2,255.3 L826.1,254.5 L828.0,253.8 L830.0,253.0 L831.9,252.3 L833.8,251.6 L835.8,250.9 L837.8,250.2 L839.8,249.5 L841.8,248.8 L843.9,248.1 L845.9,247.4 L848.0,246.8 L850.0,246.1 L852.0,245.5 L854.0,244.9 L855.9,244.2 L857.9,243.6 L859.8,243.1 L861.8,242.5 L863.8,241.9 L865.8,241.3 L867.9,240.8 L870.0,240.2 L872.0,239.7 L874.0,239.2 L876.0,238.6 L878.1,238.1 L880.2,237.6 L882.3,237.1 L884.4,236.6 L886.5,236.1 L888.7,235.6 L890.8,235.1 L892.9,234.7 L895.0,234.2 L897.1,233.8 L899.2,233.3 L901.2,232.9 L903.3,232.5 L905.4,232.1 L907.5,231.7 L909.6,231.4 L911.7,231.0 L913.7,230.6 L915.8,230.2 L917.9,229.9 L920.0,229.5 L922.1,229.1 L924.2,228.8 L926.2,228.4 L928.3,228.0 L930.4,227.6 L932.5,227.3 L934.6,226.9 L936.7,226.6 L938.7,226.2 L940.8,225.9 L942.9,225.5 L945.0,225.2 L947.1,224.9 L949.2,224.6 L951.2,224.3 L953.3,224.0 L955.4,223.7 L957.5,223.4 L959.6,223.1 L961.6,222.9 L963.7,222.6 L965.8,222.3 L967.9,222.1 L970.0,221.8 L972.1,221.5 L974.2,221.3 L976.4,221.0 L978.5,220.8 L980.6,220.6 L982.7,220.3 L984.9,220.1 L987.0,219.8 L989.1,219.6 L991.2,219.4 L993.4,219.1 L995.5,218.9" stroke="#0ff"/>
</g>
<text x="149.76" y="678.70" font-family="Liberation Sans, sans-serif" font-size="38">-</text>
<path d="M763,0 L583,0 L583,1114 Q518,1054 412.5,994 Q307,933 223,903 L223,1072 Q374,1141 487,1239 Q600,1337 647,1430 L763,1430 Z" transform="translate(162.41,678.70) scale(0.01855,-0.01855)" fill="#000"/>
<text x="183.55" y="678.70" font-family="Liberation Sans, sans-serif" font-size="38">.0</text>
<text x="231.06" y="678.70" font-family="Liberation Sans, sans-serif" font-size="38">-0.8</text>
<text x="312.36" y="678.70" font-family="Liberation Sans, sans-serif" font-size="38">-0.6</text>
<text x="393.66" y="678.70" font-family="Liberation Sans, sans-serif" font-size="38">-0.4</text>
<text x="474.96" y="678.70" font-family="Liberation Sans, sans-serif" font-size="38">-0.2</text>
<text x="562.59" y="678.70" font-family="Liberation Sans, sans-serif" font-size="38">0.0</text>
<text x="643.89" y="678.70" font-family="Liberation Sans, sans-serif" font-size="38">0.2</text>
<text x="725.19" y="678.70" font-family="Liberation Sans, sans-serif" font-size="38">0.4</text>
<text x="806.49" y="678.70" font-family="Liberation Sans, sans-serif" font-size="38">0.6</text>
<text x="887.79" y="678.70" font-family="Liberation Sans, sans-serif" font-size="38">0.8</text>
<path d="M763,0 L583,0 L583,1114 Q518,1054 412.5,994 Q307,933 223,903 L223,1072 Q374,1141 487,1239 Q600,1337 647,1430 L763,1430 Z" transform="translate(969.09,678.70) scale(0.01855,-0.01855)" fill="#000"/>
<text x="990.22" y="678.70" font-family="Liberation Sans, sans-serif" font-size="38">.0</text>
<path d="M763,0 L583,0 L583,1114 Q518,1054 412.5,994 Q307,933 223,903 L223,1072 Q374,1141 487,1239 Q600,1337 647,1430 L763,1430 Z" transform="translate(99.48,643.60) scale(0.01855,-0.01855)" fill="#000"/>
<text x="120.62" y="643.60" font-family="Liberation Sans, sans-serif" font-size="38">0</text>
<text x="141.75" y="622.80" font-family="Liberation Sans, sans-serif" font-size="23">-5</text>
<path d="M763,0 L583,0 L583,1114 Q518,1054 412.5,994 Q307,933 223,903 L223,1072 Q374,1141 487,1239 Q600,1337 647,1430 L763,1430 Z" transform="translate(99.48,583.60) scale(0.01855,-0.01855)" fill="#000"/>
<text x="120.62" y="583.60" font-family="Liberation Sans, sans-serif" font-size="38">0</text>
<text x="141.75" y="562.80" font-family="Liberation Sans, sans-serif" font-size="23">-4</text>
<path d="M763,0 L583,0 L583,1114 Q518,1054 412.5,994 Q307,933 223,903 L223,1072 Q374,1141 487,1239 Q600,1337 647,1430 L763,1430 Z" transform="translate(99.48,523.60) scale(0.01855,-0.01855)" fill="#000"/>
<text x="120.62" y="523.60" font-family="Liberation Sans, sans-serif" font-size="38">0</text>
<text x="141.75" y="502.80" font-family="Liberation Sans, sans-serif" font-size="23">-3</text>
<path d="M763,0 L583,0 L583,1114 Q518,1054 412.5,994 Q307,933 223,903 L223,1072 Q374,1141 487,1239 Q600,1337 647,1430 L763,1430 Z" transform="translate(99.48,463.60) scale(0.01855,-0.01855)" fill="#000"/>
<text x="120.62" y="463.60" font-family="Liberation Sans, sans-serif" font-size="38">0</text>
<text x="141.75" y="442.80" font-family="Liberation Sans, sans-serif" font-size="23">-2</text>
<path d="M763,0 L583,0 L583,1114 Q518,1054 412.5,994 Q307,933 223,903 L223,1072 Q374,1141 487,1239 Q600,1337 647,1430 L763,1430 Z" transform="translate(99.48,403.60) scale(0.01855,-0.01855)" fill="#000"/>
<text x="120.62" y="403.60" font-family="Liberation Sans, sans-serif" font-size="38">0</text>
<text x="141.75" y="382.80" font-family="Liberation Sans, sans-serif" font-size="23">-</text>
<path d="M763,0 L583,0 L583,1114 Q518,1054 412.5,994 Q307,933 223,903 L223,1072 Q374,1141 487,1239 Q600,1337 647,1430 L763,1430 Z" transform="translate(149.41,382.80) scale(0.01123,-0.01123)" fill="#000"/>
<path d="M763,0 L583,0 L583,1114 Q518,1054 412.5,994 Q307,933 223,903 L223,1072 Q374,1141 487,1239 Q600,1337 647,1430 L763,1430 Z" transform="translate(107.14,343.60) scale(0.01855,-0.01855)" fill="#000"/>
<text x="128.27" y="343.60" font-family="Liberation Sans, sans-serif" font-size="38">0</text>
<text x="149.41" y="322.80" font-family="Liberation Sans, sans-serif" font-size="23">0</text>
<path d="M763,0 L583,0 L583,1114 Q518,1054 412.5,994 Q307,933 223,903 L223,1072 Q374,1141 487,1239 Q600,1337 647,1430 L763,1430 Z" transform="translate(107.14,283.60) scale(0.01855,-0.01855)" fill="#000"/>
<text x="128.27" y="283.60" font-family="Liberation Sans, sans-serif" font-size="38">0</text>
<path d="M763,0 L583,0 L583,1114 Q518,1054 412.5,994 Q307,933 223,903 L223,1072 Q374,1141 487,1239 Q600,1337 647,1430 L763,1430 Z" transform="translate(149.41,262.80) scale(0.01123,-0.01123)" fill="#000"/>
<path d="M763,0 L583,0 L583,1114 Q518,1054 412.5,994 Q307,933 223,903 L223,1072 Q374,1141 487,1239 Q600,1337 647,1430 L763,1430 Z" transform="translate(107.14,223.60) scale(0.01855,-0.01855)" fill="#000"/>
<text x="128.27" y="223.60" font-family="Liberation Sans, sans-serif" font-size="38">0</text>
<text x="149.41" y="202.80" font-family="Liberation Sans, sans-serif" font-size="23">2</text>
<path d="M763,0 L583,0 L583,1114 Q518,1054 412.5,994 Q307,933 223,903 L223,1072 Q374,1141 487,1239 Q600,1337 647,1430 L763,1430 Z" transform="translate(107.14,163.60) scale(0.01855,-0.01855)" fill="#000"/>
<text x="128.27" y="163.60" font-family="Liberation Sans, sans-serif" font-size="38">0</text>
<text x="149.41" y="142.80" font-family="Liberation Sans, sans-serif" font-size="23">3</text>
<path d="M763,0 L583,0 L583,1114 Q518,1054 412.5,994 Q307,933 223,903 L223,1072 Q374,1141 487,1239 Q600,1337 647,1430 L763,1430 Z" transform="translate(107.14,103.60) scale(0.01855,-0.01855)" fill="#000"/>
<text x="128.27" y="103.60" font-family="Liberation Sans, sans-serif" font-size="38">0</text>
<text x="149.41" y="82.80" font-family="Liberation Sans, sans-serif" font-size="23">4</text>
<path d="M763,0 L583,0 L583,1114 Q518,1054 412.5,994 Q307,933 223,903 L223,1072 Q374,1141 487,1239 Q600,1337 647,1430 L763,1430 Z" transform="translate(107.14,43.60) scale(0.01855,-0.01855)" fill="#000"/>
<text x="128.27" y="43.60" font-family="Liberation Sans, sans-serif" font-size="38">0</text>
<text x="149.41" y="22.80" font-family="Liberation Sans, sans-serif" font-size="23">5</text>
<text x="468.60" y="749.80" font-family="Liberation Sans, sans-serif" font-size="48.4">Voltage (V)</text>
<text transform="translate(50.9,609.6) rotate(-90)" font-family="Liberation Sans, sans-serif" font-size="48.4">Current density (mA/cm<tspan font-size="30.4" dy="-27">2</tspan><tspan dx="1.5" dy="27">)</tspan></text>
<line x1="205.4" x2="277.5" y1="49.7" y2="49.7" stroke="#000" stroke-width="5" stroke-linecap="round"/>
<text x="286.90" y="61.00" font-family="Liberation Sans, sans-serif" font-size="32.4">Control OPD (AM </text>
<path d="M763,0 L583,0 L583,1114 Q518,1054 412.5,994 Q307,933 223,903 L223,1072 Q374,1141 487,1239 Q600,1337 647,1430 L763,1430 Z" transform="translate(547.95,61.00) scale(0.01582,-0.01582)" fill="#000"/>
<text x="565.97" y="61.00" font-family="Liberation Sans, sans-serif" font-size="32.4">.5G)</text>
<line x1="205.4" x2="277.5" y1="89.3" y2="89.3" stroke="#f00" stroke-width="5" stroke-linecap="round"/>
<text x="286.90" y="100.60" font-family="Liberation Sans, sans-serif" font-size="32.4">Control OPD (dark)</text>
<line x1="205.4" x2="277.5" y1="128.9" y2="128.9" stroke="#0f0" stroke-width="5" stroke-linecap="round"/>
<text x="286.90" y="140.20" font-family="Liberation Sans, sans-serif" font-size="32.4">OPD in sensor (AM </text>
<path d="M763,0 L583,0 L583,1114 Q518,1054 412.5,994 Q307,933 223,903 L223,1072 Q374,1141 487,1239 Q600,1337 647,1430 L763,1430 Z" transform="translate(574.97,140.20) scale(0.01582,-0.01582)" fill="#000"/>
<text x="592.99" y="140.20" font-family="Liberation Sans, sans-serif" font-size="32.4">.5G)</text>
<line x1="205.4" x2="277.5" y1="168.5" y2="168.5" stroke="#00f" stroke-width="5" stroke-linecap="round"/>
<text x="286.90" y="179.80" font-family="Liberation Sans, sans-serif" font-size="32.4">OPD in sensor (dark, OLED 5 V)</text>
<line x1="205.4" x2="277.5" y1="208.1" y2="208.1" stroke="#0ff" stroke-width="5" stroke-linecap="round"/>
<text x="286.90" y="219.40" font-family="Liberation Sans, sans-serif" font-size="32.4">OPD in sensor (dark, OLED 0 V)</text>
</svg>
</body></html>
